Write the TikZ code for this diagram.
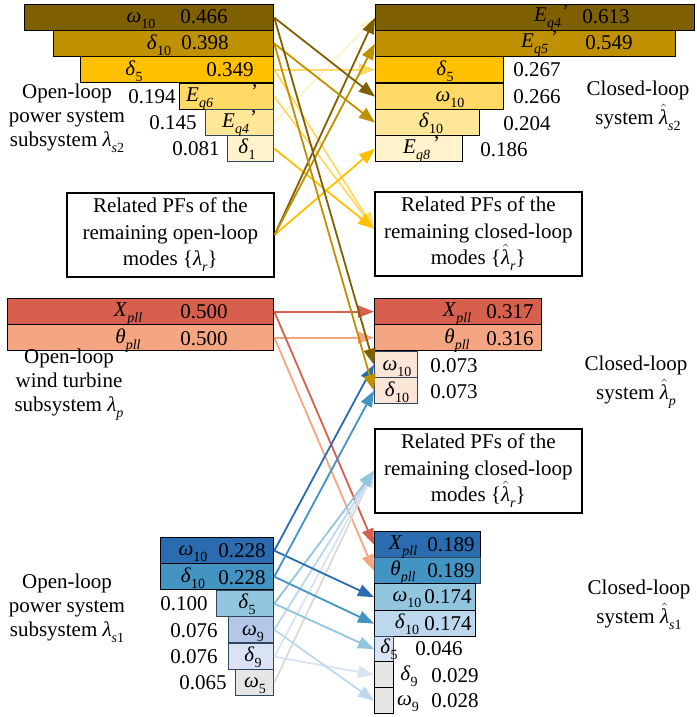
\documentclass[tikz,border=0pt]{standalone}
\usepackage{amsmath}
\usepackage{fontspec}
\setmainfont{Liberation Serif}
\usetikzlibrary{arrows.meta}
\definecolor{ca}{HTML}{7F6000}
\definecolor{cb}{HTML}{BF9000}
\definecolor{cc}{HTML}{FFC000}
\definecolor{cd}{HTML}{FFD966}
\definecolor{ce}{HTML}{FFE699}
\definecolor{cf}{HTML}{FFF2CC}
\definecolor{rd}{HTML}{D6604D}
\definecolor{sa}{HTML}{F4A582}
\definecolor{pe}{HTML}{FBE5D6}
\definecolor{ba}{HTML}{2B6CB0}
\definecolor{bb}{HTML}{4393C3}
\definecolor{bc}{HTML}{92C5DE}
\definecolor{bd}{HTML}{B4C7E7}
\definecolor{be}{HTML}{DAE3F3}
\definecolor{bf}{HTML}{BDD7EE}
\definecolor{gy}{HTML}{E7E6E6}
\definecolor{gl}{HTML}{D9D9D9}
\definecolor{sl}{HTML}{2E4560}
\newcommand{\sbs}[1]{\raisebox{-6pt}{\fontsize{14}{14}\selectfont #1}}
\newcommand{\gsub}[2]{\textit{#1}\sbs{#2}}
\newcommand{\Epr}[2]{\textit{E}\sbs{\textit{#1}}\hspace{#2}\raisebox{3pt}{’}}
\newcommand{\lhat}{$\hat{\text{\textit{λ}}}$}
\tikzset{
  bar/.style={draw=black, line width=1.3pt, inner sep=0pt, anchor=north west},
  sbar/.style={bar, draw=sl},
  txt/.style={font=\fontsize{21}{24}\selectfont, inner sep=0pt, anchor=base},
  lab/.style={font=\fontsize{21}{24}\selectfont, inner sep=0pt, align=center},
  clab/.style={font=\fontsize{21}{29}\selectfont, inner sep=0pt, align=center},
  pfbox/.style={draw=black, line width=1.6pt, anchor=north west, inner sep=0pt, align=center, font=\fontsize{21}{26.5}\selectfont, minimum width=207pt, minimum height=84pt},
  arr/.style={line width=1.8pt, -{Triangle[length=16pt,width=12pt]}}
}
\begin{document}
\begin{tikzpicture}[x=1pt,y=-1pt]
\useasboundingbox (0,0) rectangle (696,717);
% ---------- top-left bars (open-loop lambda_s2)
\node[bar,fill=ca,minimum width=249pt,minimum height=26pt] (TL1) at (24,4) {};
\node[bar,fill=cb,minimum width=220pt,minimum height=26pt] (TL2) at (53,30) {};
\node[bar,fill=cc,minimum width=193pt,minimum height=26pt] (TL3) at (80,56) {};
\node[bar,fill=cd,minimum width=94pt,minimum height=26pt] (TL4) at (179,83) {};
\node[sbar,fill=ce,minimum width=68pt,minimum height=26pt] (TL5) at (205,109) {};
\node[sbar,fill=cf,minimum width=46pt,minimum height=26pt] (TL6) at (227,135) {};
\node[txt] (tTL1a) at (141,23) {\gsub{ω}{10}};
\node[txt] (tTL1b) at (204,24) {0.466};
\node[txt] (tTL2a) at (159,49) {\gsub{δ}{10}};
\node[txt] (tTL2b) at (205,50) {0.398};
\node[txt] (tTL3a) at (134,75) {\gsub{δ}{5}};
\node[txt] (tTL3b) at (230,77) {0.349};
\node[txt,anchor=base west] (tTL4a) at (186,101) {\Epr{q6}{38pt}};
\node[txt] (tTL4b) at (152,103) {0.194};
\node[txt,anchor=base west] (tTL5a) at (222,127) {\Epr{q4}{1pt}};
\node[txt] (tTL5b) at (173,129) {0.145};
\node[txt] (tTL6a) at (247,153) {\gsub{δ}{1}};
\node[txt] (tTL6b) at (196,155) {0.081};
\node[lab] (lTL) at (67,118) {Open-loop\\power system\\subsystem \textit{λ}\sbs{\textit{s}2}};
% ---------- top-right bars (closed-loop lambda_s2)
\node[bar,fill=ca,minimum width=319pt,minimum height=26pt] (TR1) at (375,4) {};
\node[bar,fill=cb,minimum width=300pt,minimum height=26pt] (TR2) at (375,30) {};
\node[bar,fill=cc,minimum width=128pt,minimum height=26pt] (TR3) at (375,56) {};
\node[bar,fill=cd,minimum width=128pt,minimum height=26pt] (TR4) at (375,83) {};
\node[bar,fill=ce,minimum width=104pt,minimum height=26pt] (TR5) at (375,109) {};
\node[bar,fill=cf,minimum width=87pt,minimum height=26pt] (TR6) at (375,135) {};
\node[txt,anchor=base west] (tTR1a) at (534,22) {\Epr{q4}{1pt}};
\node[txt] (tTR1b) at (606,24) {0.613};
\node[txt,anchor=base west] (tTR2a) at (521,48) {\Epr{q5}{3pt}};
\node[txt] (tTR2b) at (609,50) {0.549};
\node[txt] (tTR3a) at (445,75) {\gsub{δ}{5}};
\node[txt] (tTR3b) at (537,77) {0.267};
\node[txt] (tTR4a) at (450,101) {\gsub{ω}{10}};
\node[txt] (tTR4b) at (537,103) {0.266};
\node[txt] (tTR5a) at (431,127) {\gsub{δ}{10}};
\node[txt] (tTR5b) at (527,130) {0.204};
\node[txt,anchor=base west] (tTR6a) at (403,153) {\Epr{q8}{3pt}};
\node[txt] (tTR6b) at (504,156) {0.186};
\node[clab] (lTR) at (638,106) {Closed-loop\\system \lhat\sbs{\textit{s}2}};
% ---------- related PF boxes
\node[pfbox] (LB) at (66,192) {Related PFs of the\\remaining open-loop\\modes \{\textit{λ}\sbs{\textit{r}}\}};
\node[pfbox] (RB1) at (374,191) {Related PFs of the\\remaining closed-loop\\modes \{\lhat\sbs{\textit{r}}\}};
\node[pfbox] (RB2) at (374,428) {Related PFs of the\\remaining closed-loop\\modes \{\lhat\sbs{\textit{r}}\}};
\coordinate (rbt) at ([yshift=5pt]RB1.west);
% ---------- wind turbine
\node[bar,fill=rd,minimum width=266pt,minimum height=26pt] (WL1) at (7,298) {};
\node[bar,fill=sa,minimum width=266pt,minimum height=26pt] (WL2) at (7,324) {};
\node[txt] (tWL1a) at (128,316) {\gsub{X}{\textit{pll}}};
\node[txt] (tWL1b) at (204,318) {0.500};
\node[txt] (tWL2a) at (128,343) {\gsub{θ}{\textit{pll}}};
\node[txt] (tWL2b) at (204,345) {0.500};
\node[lab] (lWL) at (69,385) {Open-loop\\wind turbine\\subsystem \textit{λ}\sbs{\textit{p}}};
\node[bar,fill=rd,minimum width=167pt,minimum height=26pt] (WR1) at (374,298) {};
\node[bar,fill=sa,minimum width=167pt,minimum height=26pt] (WR2) at (374,324) {};
\node[sbar,fill=pe,minimum width=43pt,minimum height=26pt] (WR3) at (374,351) {};
\node[sbar,fill=pe,minimum width=43pt,minimum height=26pt] (WR4) at (374,377) {};
\node[txt] (tWR1a) at (457,316) {\gsub{X}{\textit{pll}}};
\node[txt] (tWR1b) at (510,318) {0.317};
\node[txt] (tWR2a) at (457,343) {\gsub{θ}{\textit{pll}}};
\node[txt] (tWR2b) at (510,345) {0.316};
\node[txt] (tWR3a) at (397,370) {\gsub{ω}{10}};
\node[txt] (tWR3b) at (454,372) {0.073};
\node[txt] (tWR4a) at (397,396) {\gsub{δ}{10}};
\node[txt] (tWR4b) at (454,398) {0.073};
\node[clab] (lWR) at (636,382) {Closed-loop\\system \lhat\sbs{\textit{p}}};
% ---------- bottom-left bars (open-loop lambda_s1)
\node[bar,fill=ba,minimum width=113pt,minimum height=26pt] (BL1) at (160,537) {};
\node[bar,fill=bb,minimum width=113pt,minimum height=26pt] (BL2) at (160,563) {};
\node[sbar,fill=bc,minimum width=57pt,minimum height=26pt] (BL3) at (216,590) {};
\node[sbar,fill=bd,minimum width=45pt,minimum height=26pt] (BL4) at (228,616) {};
\node[sbar,fill=be,minimum width=45pt,minimum height=26pt] (BL5) at (228,643) {};
\node[sbar,fill=gy,minimum width=38pt,minimum height=26pt] (BL6) at (235,669) {};
\node[txt] (tBL1a) at (193,555) {\gsub{ω}{10}};
\node[txt] (tBL1b) at (242,557) {0.228};
\node[txt] (tBL2a) at (193,582) {\gsub{δ}{10}};
\node[txt] (tBL2b) at (242,584) {0.228};
\node[txt] (tBL3a) at (247,608) {\gsub{δ}{5}};
\node[txt] (tBL3b) at (184,610) {0.100};
\node[txt] (tBL4a) at (253,635) {\gsub{ω}{9}};
\node[txt] (tBL4b) at (194,637) {0.076};
\node[txt] (tBL5a) at (253,661) {\gsub{δ}{9}};
\node[txt] (tBL5b) at (194,663) {0.076};
\node[txt] (tBL6a) at (255,687) {\gsub{ω}{5}};
\node[txt] (tBL6b) at (203,689) {0.065};
\node[lab] (lBL) at (67,608) {Open-loop\\power system\\subsystem \textit{λ}\sbs{\textit{s}1}};
% ---------- bottom-right bars (closed-loop lambda_s1)
\node[bar,fill=ba,minimum width=106pt,minimum height=26pt] (BR1) at (374,531) {};
\node[sbar,fill=bb,minimum width=106pt,minimum height=26pt] (BR2) at (374,557) {};
\node[bar,fill=bc,minimum width=101pt,minimum height=27pt] (BR3) at (374,583) {};
\node[bar,fill=bf,minimum width=101pt,minimum height=26pt] (BR4) at (374,610) {};
\node[sbar,fill=be,minimum width=19pt,minimum height=25pt] (BR5) at (374,636) {};
\node[bar,fill=gy,minimum width=19pt,minimum height=26pt] (BR6) at (374,661) {};
\node[bar,fill=gy,minimum width=19pt,minimum height=26pt] (BR7) at (374,687) {};
\node[txt] (tBR1a) at (403,549) {\gsub{X}{\textit{pll}}};
\node[txt] (tBR1b) at (451,551) {0.189};
\node[txt] (tBR2a) at (403,575) {\gsub{θ}{\textit{pll}}};
\node[txt] (tBR2b) at (451,577) {0.189};
\node[txt] (tBR3a) at (407,601) {\gsub{ω}{10}};
\node[txt] (tBR3b) at (448,603) {0.174};
\node[txt] (tBR4a) at (407,628) {\gsub{δ}{10}};
\node[txt] (tBR4b) at (448,630) {0.174};
\node[txt] (tBR5a) at (389,653) {\gsub{δ}{5}};
\node[txt] (tBR5b) at (439,655) {0.046};
\node[txt] (tBR6a) at (409,680) {\gsub{δ}{9}};
\node[txt] (tBR6b) at (455,682) {0.029};
\node[txt] (tBR7a) at (408,705) {\gsub{ω}{9}};
\node[txt] (tBR7b) at (455,707) {0.028};
\node[clab] (lBR) at (639,605) {Closed-loop\\system \lhat\sbs{\textit{s}1}};
% ---------- arrows: lambda_s2 group
\draw[arr,cf] (TL5.east) -- (TR1.west);
\draw[arr,cd] (TL3.east) -- (TR3.west);
\draw[arr,cd] (TL3.east) -- (rbt);
\draw[arr,cd] (TL4.east) -- (rbt);
\draw[arr,cc] (TL6.east) -- (rbt);
\draw[arr,cc] (LB.east) -- (TR6.west);
\draw[arr,ca] (LB.east) -- (TR1.west);
\draw[arr,cb] (LB.east) -- (TR2.west);
\draw[arr,ca] (TL1.east) -- (TR4.west);
\draw[arr,cb] (TL2.east) -- (TR5.west);
% ---------- arrows: wind turbine group
\draw[arr,rd] (WL1.east) -- (WR1.west);
\draw[arr,sa] (WL2.east) -- (WR2.west);
\draw[arr,sa] (WL2.east) -- (BR2.west);
\draw[arr,rd] (WL1.east) -- (BR1.west);
% ---------- arrows: lambda_s1 group
\draw[arr,gl] (BL6.east) -- (RB2.west);
\draw[arr,be] (BL5.east) -- (RB2.west);
\draw[arr,bf] (BL4.east) -- (RB2.west);
\draw[arr,bc] (BL3.east) -- (RB2.west);
\draw[arr,be] (BL5.east) -- (BR6.west);
\draw[arr,bf] (BL4.east) -- (BR7.west);
\draw[arr,bc] (BL3.east) -- (BR5.west);
\draw[arr,bb] (BL2.east) -- (BR4.west);
\draw[arr,ba] (BL1.east) -- (BR3.west);
\draw[arr,ba] (BL1.east) -- (WR3.west);
\draw[arr,bb] (BL2.east) -- (WR4.west);
\draw[arr,ca] (TL1.east) -- (WR3.west);
\draw[arr,cb] (TL2.east) -- (WR4.west);
\end{tikzpicture}
\end{document}
